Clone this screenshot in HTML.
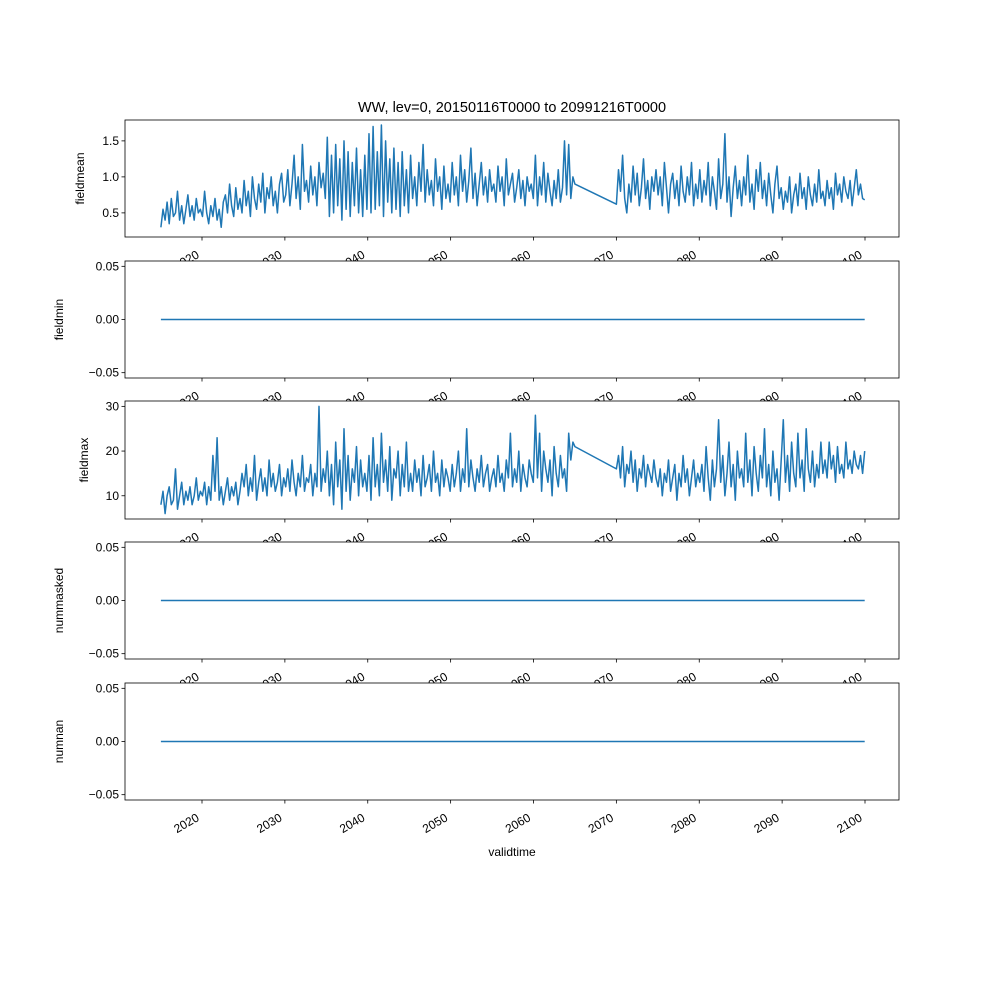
<!DOCTYPE html>
<html><head><meta charset="utf-8"><style>
body{margin:0;background:#fff}
svg{display:block;font-family:"Liberation Sans","DejaVu Sans",sans-serif}
</style></head><body>
<svg id="fig" width="1000" height="1000" viewBox="0 0 1000 1000">
<rect width="1000" height="1000" fill="#fff"/>
<text x="512" y="112" font-size="14.5" text-anchor="middle">WW, lev=0, 20150116T0000 to 20991216T0000</text>
<text x="512" y="856" font-size="12" text-anchor="middle">validtime</text>
</svg>
<script>
const xTickYears=[2020,2030,2040,2050,2060,2070,2080,2090,2100];
const seg1Start=2015.04, seg1End=2065.0, seg2Start=2070.0, seg2End=2099.96;
const meanSeg1=[0.3,0.55,0.4,0.65,0.35,0.7,0.45,0.5,0.8,0.4,0.6,0.35,0.55,0.75,0.45,0.6,0.4,0.7,0.5,0.55,
0.45,0.8,0.5,0.35,0.6,0.45,0.7,0.4,0.55,0.3,0.65,0.75,0.5,0.9,0.6,0.45,0.85,0.55,0.7,0.5,
0.95,0.6,0.8,0.45,1.0,0.7,0.55,0.9,0.65,1.05,0.5,0.85,0.7,1.0,0.6,0.8,0.5,0.9,1.05,0.65,
0.75,1.1,0.6,0.9,1.3,0.7,1.0,0.55,1.45,0.8,0.95,0.65,1.15,0.75,1.0,0.6,1.2,0.85,1.05,0.7,
1.55,0.45,1.3,0.5,1.45,0.6,1.25,0.4,1.5,0.55,1.35,0.45,1.2,0.6,1.4,0.5,1.1,0.45,1.3,0.55,
1.6,0.5,1.7,0.55,1.35,0.6,1.72,0.45,1.5,0.65,1.25,0.5,1.4,0.55,1.2,0.45,1.35,0.6,1.1,0.5,
1.3,0.7,1.0,0.6,1.2,0.8,1.45,0.65,1.1,0.75,0.95,0.6,1.25,0.8,1.0,0.55,1.15,0.7,0.9,0.65,
1.2,0.75,1.0,0.6,1.3,0.8,1.1,0.65,0.95,1.4,0.7,1.05,0.6,0.9,1.2,0.75,1.0,0.65,1.1,0.8,
0.9,0.65,1.15,0.8,1.0,0.6,1.25,0.75,0.9,1.05,0.65,0.85,1.1,0.7,0.95,0.6,1.0,0.8,0.9,0.7,
1.3,0.6,1.0,0.75,1.2,0.65,1.05,0.8,0.6,0.95,0.7,1.1,0.65,0.85,1.5,0.75,1.45,0.7,1.0,0.9];
const meanSeg2=[0.62,1.1,0.8,1.3,0.7,0.5,0.9,0.65,1.15,0.75,1.05,0.6,0.85,1.25,0.7,0.95,0.55,1.0,0.8,1.1,
0.75,1.0,0.6,1.2,0.85,0.5,0.9,1.05,0.7,0.95,0.6,1.15,0.8,0.65,1.0,0.75,1.2,0.6,0.9,0.7,
1.1,0.65,0.95,0.75,1.2,0.6,1.0,0.8,0.55,1.25,0.7,0.9,1.6,0.65,1.0,0.45,0.85,1.15,0.7,0.95,
0.6,1.0,0.75,1.3,0.65,0.9,0.55,1.1,0.8,1.2,0.7,0.95,0.6,1.05,0.75,0.5,0.9,1.15,0.7,0.85,
0.55,0.8,0.65,1.0,0.5,0.75,0.9,0.6,1.05,0.7,0.85,0.55,1.0,0.75,0.6,0.9,0.65,1.1,0.7,0.8,
0.6,0.95,0.7,0.85,0.55,1.05,0.75,0.9,0.65,1.0,0.8,0.7,0.95,0.6,0.85,1.1,0.75,0.9,0.7,0.68];
const maxSeg1=[8,11,6,10,12,8,9,16,7,10,13,8,11,9,12,8,10,14,9,11,
10,13,8,12,9,19,11,23,9,12,8,11,14,9,12,10,13,8,11,15,
12,17,10,14,11,19,9,13,16,11,14,10,18,12,15,11,13,17,10,14,
12,16,11,18,13,10,15,12,19,11,14,13,17,10,15,12,30,11,16,13,
20,10,17,8,22,12,18,7,25,11,19,9,16,13,21,10,18,12,15,11,
19,9,23,12,17,10,24,13,18,11,21,9,16,14,20,10,17,12,22,11,
15,11,18,13,16,10,19,12,14,17,11,20,13,15,10,18,12,16,14,11,
17,12,15,20,11,16,13,25,12,18,14,11,16,13,19,12,15,17,11,14,
16,12,19,13,15,11,18,14,24,12,16,13,20,11,17,14,12,18,15,13,
28,14,24,11,20,16,13,18,10,21,15,12,19,14,16,11,24,18,22,21];
const maxSeg2=[16,19,14,21,12,17,15,20,13,18,11,16,14,19,12,17,15,13,18,14,
12,16,10,15,13,18,11,14,17,9,15,12,19,13,16,10,14,18,12,15,
13,17,11,21,14,9,18,12,16,27,13,19,10,15,22,12,17,9,20,14,
16,12,24,13,18,10,21,15,11,19,14,25,12,17,10,20,13,16,9,18,
27,13,19,11,22,15,12,24,14,18,11,25,16,13,20,12,17,14,22,15,
18,14,22,16,19,13,21,15,17,14,22,16,18,15,20,17,16,19,15,20];
const zeroValues=[0,0];
const yTicksMean=[0.5,1.0,1.5], yTicksMeanLabels=["0.5","1.0","1.5"];
const yTicksMax=[10,20,30], yTicksMaxLabels=["10","20","30"];
const yTicksZero=[-0.05,0,0.05], yTicksZeroLabels=["−0.05","0.00","0.05"];

const NS="http://www.w3.org/2000/svg";
const svg=document.getElementById('fig');
function mk(tag,attrs,parent){const e=document.createElementNS(NS,tag);for(const k in attrs)e.setAttribute(k,attrs[k]);(parent||svg).appendChild(e);return e;}
const L=125,R=899;
const x=yr=>202+(yr-2020)*(865-202)/80;
function series(s1,s2){const t=[],v=[];
 s1.forEach((val,i)=>{t.push(seg1Start+i*(seg1End-seg1Start)/(s1.length-1));v.push(val);});
 if(s2)s2.forEach((val,i)=>{t.push(seg2Start+i*(seg2End-seg2Start)/(s2.length-1));v.push(val);});
 return [t,v];}
const panels=[
 {name:'fieldmean',top:120,bot:237,y0:0.165,y1:1.79,ticks:yTicksMean,labels:yTicksMeanLabels,data:series(meanSeg1,meanSeg2),lx:84},
 {name:'fieldmin',top:261,bot:378,y0:-0.055,y1:0.055,ticks:yTicksZero,labels:yTicksZeroLabels,data:[[seg1Start,seg2End],zeroValues],lx:63},
 {name:'fieldmax',top:401,bot:519,y0:4.8,y1:31.2,ticks:yTicksMax,labels:yTicksMaxLabels,data:series(maxSeg1,maxSeg2),lx:88},
 {name:'nummasked',top:542,bot:659,y0:-0.055,y1:0.055,ticks:yTicksZero,labels:yTicksZeroLabels,data:[[seg1Start,seg2End],zeroValues],lx:63},
 {name:'numnan',top:683,bot:800,y0:-0.055,y1:0.055,ticks:yTicksZero,labels:yTicksZeroLabels,data:[[seg1Start,seg2End],zeroValues],lx:63}];
panels.forEach(p=>{
 const g=mk('g',{});
 
 
 const y=v=>p.bot-(v-p.y0)/(p.y1-p.y0)*(p.bot-p.top);
 mk('rect',{x:L,y:p.top,width:R-L,height:p.bot-p.top,fill:'#fff'},g);
 const [t,v]=p.data;
 const pts=t.map((tt,i)=>x(tt).toFixed(1)+','+y(v[i]).toFixed(1)).join(' ');
 const line=mk('polyline',{points:pts,fill:'none',stroke:'#1f77b4','stroke-width':1.5,'stroke-linejoin':'round'},g);
 
 
 mk('rect',{x:L,y:p.top,width:R-L,height:p.bot-p.top,fill:'none',stroke:'#000','stroke-width':0.8},g);
 p.ticks.forEach((tv,i)=>{const yy=y(tv);
  mk('line',{x1:L-3.5,x2:L,y1:yy,y2:yy,stroke:'#000','stroke-width':0.8},g);
  const tx=mk('text',{x:L-6,y:yy+4,'font-size':12,'text-anchor':'end'},g);tx.textContent=p.labels[i];
  
  });
 xTickYears.forEach(yr=>{const xx=x(yr);
  mk('line',{x1:xx,x2:xx,y1:p.bot,y2:p.bot+3.5,stroke:'#000','stroke-width':0.8},g);
  const ax=xx-2, ay=p.bot+20;
  const tx=mk('text',{x:ax,y:ay,'font-size':12,'text-anchor':'end',transform:`rotate(-30 ${ax} ${ay})`},g);
  tx.textContent=yr;
  
  });
 const cy=(p.top+p.bot)/2;
 const yl=mk('text',{x:p.lx,y:cy,'font-size':12,'text-anchor':'middle',transform:`rotate(-90 ${p.lx} ${cy})`},g);
 yl.textContent=p.name;
 
 
});
</script>
</body></html>
